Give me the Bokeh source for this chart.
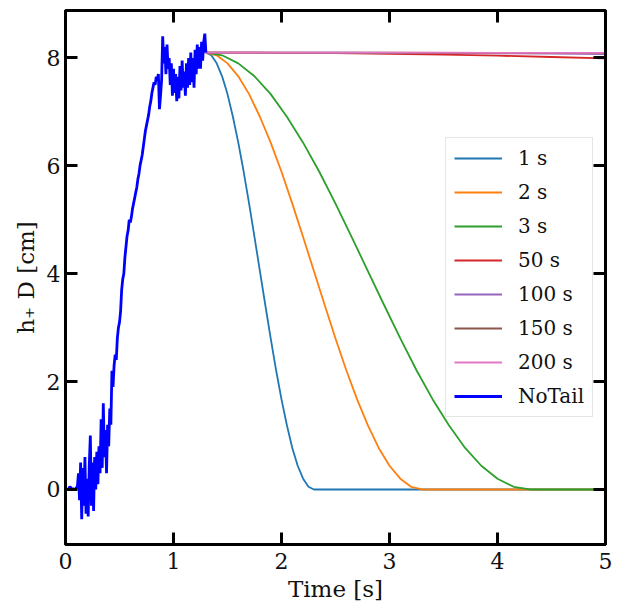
from bokeh.plotting import figure
from bokeh.models import Range1d, LinearAxis, FixedTicker, Legend, LegendItem, CustomJSTickFormatter
from bokeh.embed import file_html
from bokeh.resources import INLINE

# ---------------- data ----------------
notail_t = [round(0.01 * i, 2) for i in range(131)]
notail_h = [
    0.0, 0.0, 0.0, 0.02, 0.05, 0.03, 0.0, 0.02, 0.0, 0.0, 0.03, 0.05,
    0.3, -0.2, 0.5, -0.55, 0.4, -0.3, 0.6, -0.45, 0.2, -0.5,
    0.45, 1.0, -0.3, 0.5, -0.4, 0.6, 0.0, 0.7, 0.1, 0.8,
    0.3, 1.3, 0.4, 1.6, 0.6, 1.1, 0.3, 1.2, 0.8, 1.5,
    1.2, 2.2, 1.9, 2.3, 2.5, 2.4, 2.8, 3.0, 3.1, 3.3,
    3.7, 3.9, 4.0, 4.3, 4.5, 4.7, 4.8, 5.0, 4.95, 5.05,
    5.2, 5.3, 5.4, 5.5, 5.6, 5.75, 5.85, 6.0, 6.1, 6.2,
    6.35, 6.5, 6.65, 6.75, 6.85, 6.95, 7.1, 7.2, 7.35, 7.45,
    7.55, 7.5, 7.65, 7.6, 7.7, 7.05, 7.3, 7.6, 8.4, 7.9,
    8.2, 7.7, 8.25, 7.8, 8.0, 7.5, 7.9, 7.3, 7.8, 7.35,
    7.7, 7.2, 7.65, 7.25, 7.85, 7.4, 7.95, 7.45, 7.75, 7.3,
    7.9, 7.45, 8.0, 7.5, 8.1, 7.55, 8.0, 7.45, 8.15, 7.7,
    8.25, 7.8, 8.2, 7.8, 8.3, 7.95, 8.3, 8.45, 8.1,
]

# short tails (value read along each decay, then flat at zero until 5 s)
taper_h = [8.1, 8.05, 7.9, 7.66, 7.33, 6.91, 6.43, 5.89, 5.3, 4.68, 4.05,
           3.42, 2.8, 2.21, 1.67, 1.19, 0.77, 0.44, 0.2, 0.05, 0.0, 0.0]
tail1_t = [1.3, 1.35, 1.4, 1.45, 1.5, 1.55, 1.6, 1.65, 1.7, 1.75, 1.8,
           1.85, 1.9, 1.95, 2.0, 2.05, 2.1, 2.15, 2.2, 2.25, 2.3, 5.0]
tail2_t = [1.3, 1.4, 1.5, 1.6, 1.7, 1.8, 1.9, 2.0, 2.1, 2.2, 2.3,
           2.4, 2.5, 2.6, 2.7, 2.8, 2.9, 3.0, 3.1, 3.2, 3.3, 5.0]
tail3_t = [1.3, 1.45, 1.6, 1.75, 1.9, 2.05, 2.2, 2.35, 2.5, 2.65, 2.8,
           2.95, 3.1, 3.25, 3.4, 3.55, 3.7, 3.85, 4.0, 4.15, 4.3, 5.0]

long_t = [1.3, 2.0, 2.5, 3.0, 3.5, 4.0, 4.5, 5.0]
tail50_h = [8.1, 8.096, 8.089, 8.077, 8.061, 8.042, 8.018, 7.991]
tail100_h = [8.1, 8.099, 8.097, 8.094, 8.090, 8.085, 8.080, 8.073]
tail150_h = [8.1, 8.1, 8.099, 8.097, 8.096, 8.093, 8.091, 8.088]
tail200_h = [8.1, 8.1, 8.1, 8.099, 8.098, 8.096, 8.095, 8.093]

labels = ["1 s", "2 s", "3 s", "50 s", "100 s", "150 s", "200 s", "NoTail"]
colors = ["#1f77b4", "#ff7f0e", "#2ca02c", "#d62728", "#9467bd",
          "#8c564b", "#e377c2", "#0000ff"]
x_ticks = [0, 1, 2, 3, 4, 5]
y_ticks = [0, 2, 4, 6, 8]

FONT = "DejaVu Serif"

p = figure(frame_width=540, frame_height=534, output_backend="svg",
           toolbar_location=None,
           x_range=Range1d(0, 5), y_range=Range1d(-1.02, 8.88),
           min_border_left=65, min_border_right=8, min_border_top=10,
           min_border_bottom=10)
p.xgrid.visible = False
p.ygrid.visible = False
p.outline_line_color = "black"
p.outline_line_width = 3
p.background_fill_color = "white"

series = [
    (tail1_t, taper_h), (tail2_t, taper_h), (tail3_t, taper_h),
    (long_t, tail50_h), (long_t, tail100_h), (long_t, tail150_h),
    (long_t, tail200_h), (notail_t, notail_h),
]
widths = [1.8, 1.8, 1.8, 1.8, 1.8, 1.8, 1.8, 2.8]
items = []
for (xs, ys), lab, col, w in zip(series, labels, colors, widths):
    r = p.line(xs, ys, line_color=col, line_width=w)
    items.append(LegendItem(label=lab, renderers=[r]))


def style_axis(ax, ticks, show_labels=True):
    ax.ticker = FixedTicker(ticks=ticks)
    ax.axis_line_width = 3
    ax.axis_line_color = "black"
    ax.major_tick_in = 12
    ax.major_tick_out = 0
    ax.major_tick_line_width = 3
    ax.minor_tick_in = 0
    ax.minor_tick_out = 0
    ax.major_label_text_font = FONT
    ax.major_label_text_color = "#111111"
    ax.axis_label_text_font = FONT
    ax.axis_label_text_font_style = "normal"
    ax.axis_label_text_color = "#111111"
    if show_labels:
        ax.major_label_text_font_size = "22px"
        ax.axis_label_text_font_size = "23px"
    else:
        ax.formatter = CustomJSTickFormatter(code="return ''")
        ax.major_label_standoff = 0
        ax.axis_label_standoff = 0


style_axis(p.xaxis[0], x_ticks)
style_axis(p.yaxis[0], y_ticks)
p.xaxis[0].axis_label = "Time [s]"
p.yaxis[0].axis_label = "h\u208a D [cm]"
p.xaxis[0].major_label_standoff = 8
p.xaxis[0].axis_label_standoff = 4
p.yaxis[0].major_label_standoff = 5
p.yaxis[0].axis_label_standoff = 5

top = LinearAxis()
style_axis(top, x_ticks, show_labels=False)
p.add_layout(top, "above")
right = LinearAxis()
style_axis(right, y_ticks, show_labels=False)
p.add_layout(right, "right")

legend = Legend(items=items, location=(380, 127))
legend.label_text_font = FONT
legend.label_text_font_size = "20px"
legend.label_text_color = "#111111"
legend.glyph_width = 48
legend.glyph_height = 20
legend.label_height = 20
legend.spacing = 10
legend.padding = 8
legend.margin = 0
legend.label_standoff = 16
legend.border_line_color = "#cccccc"
legend.border_line_width = 1
legend.background_fill_alpha = 0.8
p.add_layout(legend, "center")

open("out.html", "w").write(file_html(p, INLINE))
